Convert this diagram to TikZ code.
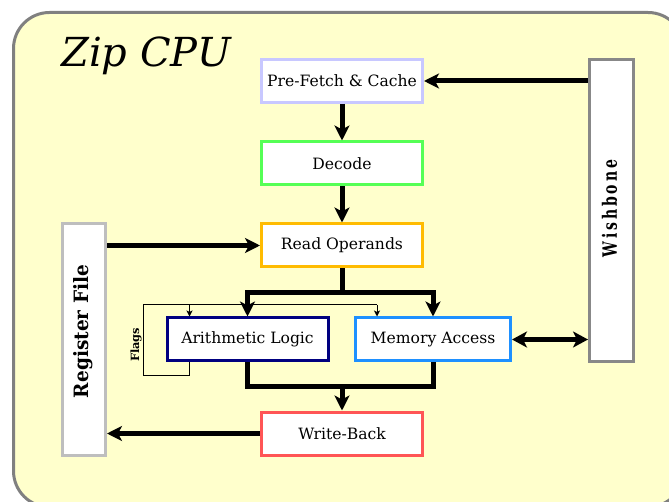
\documentclass[tikz,border=0pt]{standalone}
\usepackage{fontspec}
\setmainfont{DejaVu Serif}
\usetikzlibrary{arrows.meta}
\definecolor{bgyel}{RGB}{255,255,204}
\definecolor{outgray}{RGB}{128,128,128}
\definecolor{pfcol}{RGB}{200,200,255}
\definecolor{deccol}{RGB}{85,255,85}
\definecolor{rocol}{RGB}{255,187,0}
\definecolor{alucol}{RGB}{0,0,128}
\definecolor{memcol}{RGB}{30,144,255}
\definecolor{wbcol}{RGB}{255,85,85}
\definecolor{rfcol}{RGB}{190,190,190}
\definecolor{wishcol}{RGB}{136,136,136}
\begin{document}
\begin{tikzpicture}[x=1pt,y=-1pt,
  blk/.style={draw,fill=white,line width=3pt,minimum width=161pt,minimum height=43pt,inner sep=0pt,font=\fontsize{15.6}{18}\selectfont},
  vblk/.style={draw,fill=white,line width=3pt,inner sep=0pt},
  big/.style={line width=5pt,-{Stealth[length=15pt,width=15pt,inset=4pt]}},
  bigboth/.style={line width=5pt,{Stealth[length=15pt,width=16pt,inset=4pt]}-{Stealth[length=15pt,width=16pt,inset=4pt]}},
  bigline/.style={line width=5pt},
  thinline/.style={line width=1pt},
  thinarrow/.style={line width=1pt,-{Stealth[length=6pt,width=6pt,inset=1.5pt]}}]
\useasboundingbox (0,0) rectangle (669,502);
\begin{scope}
\clip (0,0) rectangle (669,502);
\draw[line width=3pt,draw=outgray,fill=bgyel,rounded corners=36pt] (13.5,12.5) rectangle (684,507);
\end{scope}
\node[font=\fontsize{40}{44}\selectfont\itshape,inner sep=0pt] (title) at (146,56) {Zip CPU};

\node[blk,draw=pfcol] (pf) at (342,81) {Pre-Fetch \& Cache};
\node[blk,draw=deccol] (dec) at (342,163.5) {Decode};
\node[blk,draw=rocol] (ro) at (342,245.5) {Read Operands};
\node[blk,draw=alucol] (alu) at (247.5,339.5) {Arithmetic Logic};
\node[blk,draw=memcol,minimum width=155pt] (mem) at (433,339.5) {Memory Access};
\node[blk,draw=wbcol] (wb) at (342,433.5) {Write-Back};
\node[vblk,draw=rfcol,minimum width=43pt,minimum height=232pt] (rf) at (84,339.5) {};
\node[inner sep=0pt] (rftext) at (83,331.5) {\rotatebox{90}{\resizebox{133pt}{15pt}{\bfseries Register File}}};
\node[vblk,draw=wishcol,minimum width=44pt,minimum height=302pt] (wish) at (611.5,210.5) {};
\node[inner sep=0pt] (wishtext) at (609.5,208.5) {\rotatebox{90}{\resizebox{97pt}{15pt}{\bfseries W\kern2pt i\kern2pt s\kern2pt h\kern2pt b\kern2pt o\kern2pt n\kern2pt e}}};

% flags loop
\coordinate (fb) at (189.5,375);
\coordinate (fl) at (143,375);
\coordinate (ft) at (143,305);
\coordinate (fm) at (377,305);
\draw[thinline] (alu.south -| fb) -- (fb) -- (fl) -- (ft) -- (fm);
\draw[thinarrow] (fb |- ft) -- (fb |- alu.north);
\draw[thinarrow] (fm) -- (fm |- mem.north);
\node[inner sep=0pt] (flags) at (136,345) {\rotatebox{90}{\resizebox{34pt}{!}{\bfseries Flags}}};

% main connectors
\draw[big] (wish.west |- pf.east) -- (pf.east);
\draw[big] (pf.south) -- (dec.north);
\draw[big] (dec.south) -- (ro.north);
\draw[big] (rf.east |- ro.west) -- (ro.west);
\coordinate (split) at (342,293);
\coordinate (merge) at (342,386);
\draw[bigline] (ro.south) -- (split);
\draw[big] (split) -| (alu.north);
\draw[big] (split) -| (mem.north);
\draw[bigline] (alu.south) |- (merge) -| (mem.south);
\draw[big] (merge) -- (wb.north);
\draw[bigboth] (mem.east) -- (wish.west |- mem.east);
\draw[big] (wb.west) -- (rf.east |- wb.west);
\end{tikzpicture}
\end{document}
